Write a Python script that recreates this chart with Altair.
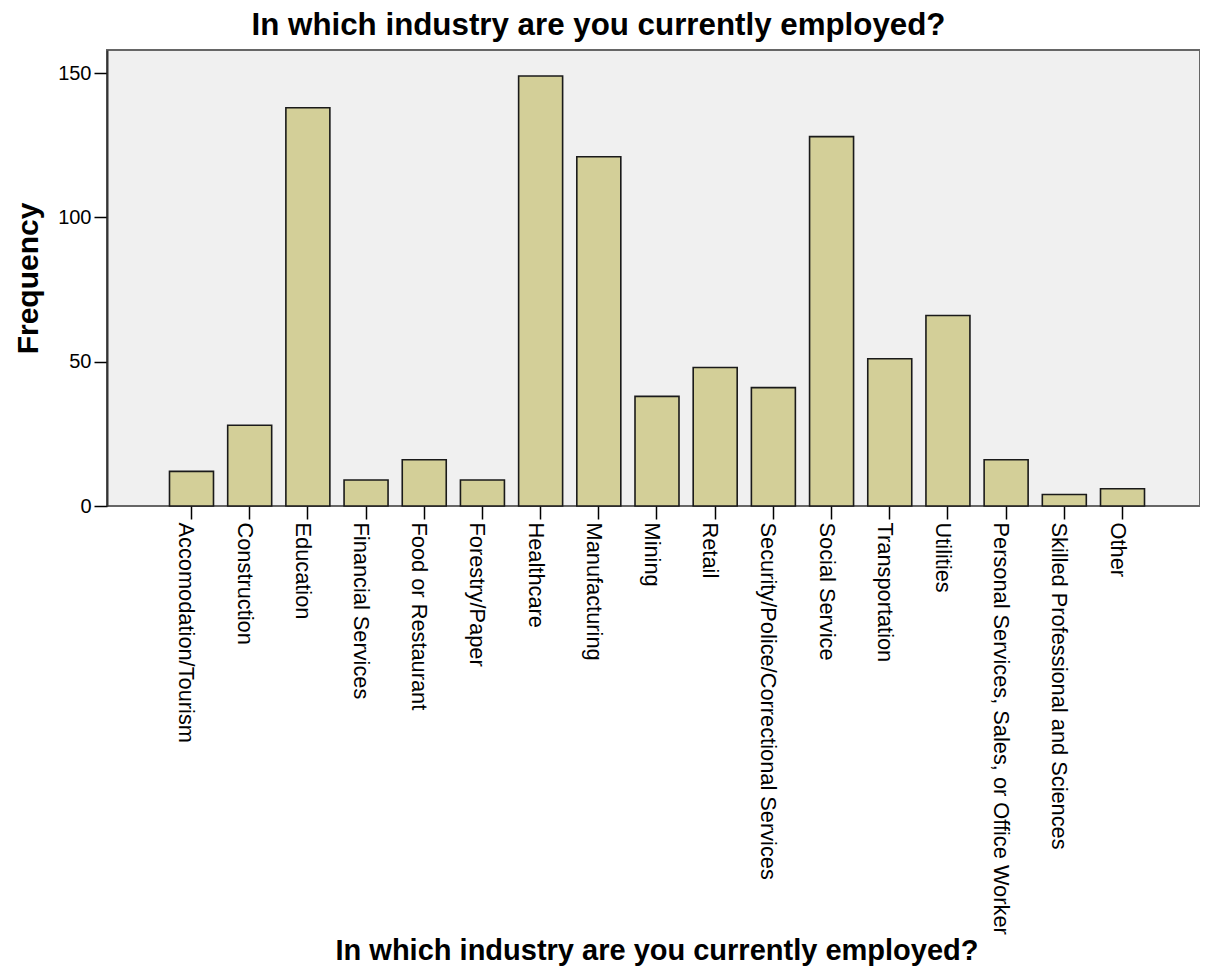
import altair as alt
import pandas as pd

categories = [
    "Accomodation/Tourism", "Construction", "Education", "Financial Services",
    "Food or Restaurant", "Forestry/Paper", "Healthcare", "Manufacturing",
    "Mining", "Retail", "Security/Police/Correctional Services", "Social Service",
    "Transportation", "Utilities", "Personal Services, Sales, or Office Worker",
    "Skilled Professional and Sciences", "Other",
]
frequency = [12, 28, 138, 9, 16, 9, 149, 121, 38, 48, 41, 128, 51, 66, 16, 4, 6]
y_ticks = [0, 50, 100, 150]

df = pd.DataFrame({"industry": categories, "count": frequency})

FONT = "Liberation Sans"
TITLE = "In which industry are you currently employed?"

chart = (
    alt.Chart(df)
    .mark_bar(color="#D3CF98", stroke="#1a1a1a", strokeWidth=1.6)
    .encode(
        x=alt.X(
            "industry:N",
            sort=categories,
            scale=alt.Scale(range=[62.5, 1037.5], paddingInner=0.244,
                            paddingOuter=0, round=False),
            axis=alt.Axis(
                title=TITLE,
                labelAngle=90,
                labelAlign="left",
                labelBaseline="middle",
                labelOffset=-5,
                labelFontSize=21.8,
                labelFont=FONT,
                labelColor="#000000",
                labelLimit=0,
                labelPadding=3,
                tickSize=13,
                tickColor="#000000",
                tickWidth=1.5,
                domain=False,
                titleFont=FONT,
                titleFontSize=29,
                titleFontWeight="bold",
                titleColor="#000000",
                titleBaseline="top",
                titleX=549.5,
                titleY=430,
            ),
        ),
        y=alt.Y(
            "count:Q",
            scale=alt.Scale(domain=[0, 158], nice=False),
            axis=alt.Axis(
                title="Frequency",
                values=y_ticks,
                grid=False,
                labelFontSize=20,
                labelFont=FONT,
                labelColor="#000000",
                labelPadding=3,
                tickSize=13,
                tickColor="#000000",
                tickWidth=1.5,
                domainColor="#333333",
                domainWidth=2,
                titleFont=FONT,
                titleFontSize=30,
                titleFontWeight="bold",
                titleColor="#000000",
                titlePadding=14,
            ),
        ),
    )
    .properties(
        width=1093,
        height=456,
        title=alt.TitleParams(
            text=TITLE,
            font=FONT,
            fontSize=31.3,
            fontWeight="bold",
            color="#000000",
            anchor="middle",
            dx=-55,
            dy=-5,
        ),
        autosize=alt.AutoSizeParams(type="none"),
        padding={"left": 99, "top": 42, "right": 0, "bottom": 460},
        background="#FFFFFF",
    )
    .configure_view(fill="#F0F0F0", stroke="#666666", strokeWidth=2)
)

chart.save("out.html", embed_options={"renderer": "svg", "actions": False})
